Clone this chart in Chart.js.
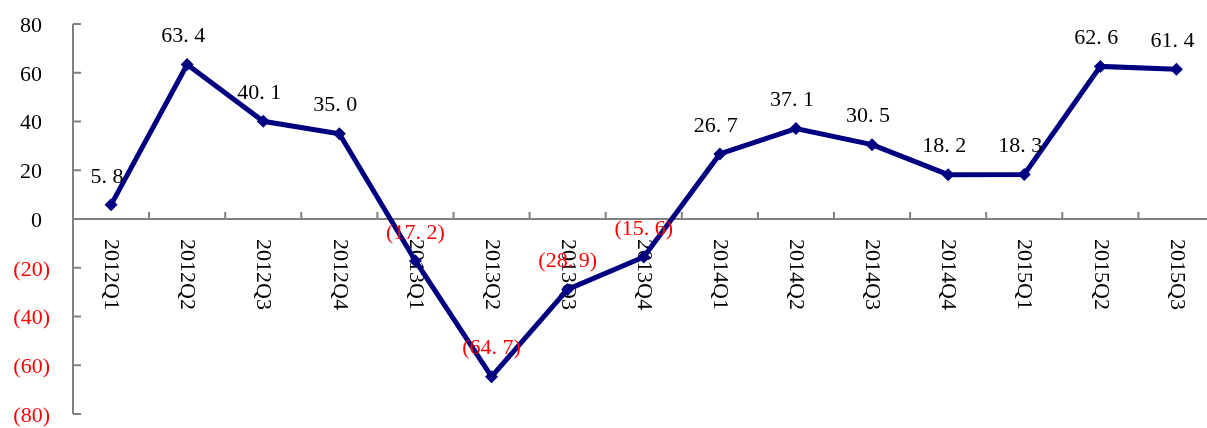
<!DOCTYPE html>
<html>
<head>
<meta charset="utf-8">
<script src="https://cdn.jsdelivr.net/npm/chart.js@4"></script>
<style>
  html, body { margin: 0; padding: 0; background: #fff; overflow: hidden; }
  #wrap { width: 1221px; height: 428px; position: relative; }
</style>
</head>
<body>
<div id="wrap"><canvas id="growthChart"></canvas></div>
<script>
const quarters = ["2012Q1","2012Q2","2012Q3","2012Q4","2013Q1","2013Q2","2013Q3","2013Q4",
                  "2014Q1","2014Q2","2014Q3","2014Q4","2015Q1","2015Q2","2015Q3"];
const growth = [5.8, 63.4, 40.1, 35.0, -17.2, -64.7, -28.9, -15.6, 26.7, 37.1, 30.5, 18.2, 18.3, 62.6, 61.4];
const yTicks = [80, 60, 40, 20, 0, -20, -40, -60, -80];

const FONT = "22px 'Liberation Serif', serif";
const AXIS = "#808080";

// excel style number format: 0.0_);(0.0)
const fmt = (v, digits) => v < 0 ? `(${Math.abs(v).toFixed(digits)})` : v.toFixed(digits);

const axesPlugin = {
  id: "axes",
  beforeDatasetsDraw(chart) {
    const { ctx, scales: { x, y }, chartArea } = chart;
    const y0 = y.getPixelForValue(0);
    ctx.save();
    ctx.strokeStyle = AXIS;
    ctx.lineWidth = 2;

    // y axis line + inward ticks
    ctx.beginPath();
    ctx.moveTo(chartArea.left, y.getPixelForValue(80));
    ctx.lineTo(chartArea.left, y.getPixelForValue(-80));
    yTicks.forEach(t => {
      const py = y.getPixelForValue(t);
      ctx.moveTo(chartArea.left, py);
      ctx.lineTo(chartArea.left + 8, py);
    });
    // x axis at zero, ticks between categories pointing up
    ctx.moveTo(chartArea.left, y0);
    ctx.lineTo(chartArea.right, y0);
    for (let i = 1; i < quarters.length; i++) {
      const px = (x.getPixelForValue(i - 1) + x.getPixelForValue(i)) / 2;
      ctx.moveTo(px, y0);
      ctx.lineTo(px, y0 - 7);
    }
    ctx.stroke();

    // y tick labels
    ctx.font = FONT;
    ctx.textBaseline = "middle";
    ctx.textAlign = "right";
    yTicks.forEach(t => {
      const py = y.getPixelForValue(t) + 2;
      ctx.fillStyle = t < 0 ? "#ff0000" : "#000";
      ctx.fillText(fmt(t, 0), t < 0 ? 50 : 42, py);
    });

    // category labels, rotated clockwise
    ctx.fillStyle = "#000";
    ctx.textAlign = "left";
    quarters.forEach((q, i) => {
      ctx.save();
      ctx.translate(x.getPixelForValue(i), y0 + 20);
      ctx.rotate(Math.PI / 2);
      ctx.fillText(q, 0, 0);
      ctx.restore();
    });
    ctx.restore();
  },
  afterDatasetsDraw(chart) {
    const { ctx } = chart;
    const meta = chart.getDatasetMeta(0);
    ctx.save();
    ctx.font = FONT;
    ctx.textAlign = "center";
    ctx.textBaseline = "middle";
    meta.data.forEach((pt, i) => {
      const v = growth[i];
      ctx.fillStyle = v < 0 ? "#ff0000" : "#000";
      const txt = fmt(v, 1).replace(".", ".\u2005");
      ctx.fillText(txt, pt.x - (v < 0 ? 0 : 4), pt.y - 28);
    });
    ctx.restore();
  }
};

function createGrowthChart() {
  const data = {
    labels: quarters,
    datasets: [
      {
        data: growth,
        fill: false,
        borderColor: "#000080",
        backgroundColor: "#000080",
        borderWidth: 5,
        tension: 0,
        pointStyle: "rectRot",
        pointRadius: 6.5,
        pointBorderWidth: 0,
      },
    ],
  };

  const config = {
    type: "line",
    data: data,
    options: {
      responsive: true,
      maintainAspectRatio: false,
      animation: false,
      layout: { padding: { left: 73, top: 24, bottom: 14, right: 0 } },
      scales: {
        x: { display: false, offset: true },
        y: { display: false, min: -80, max: 80 },
      },
      plugins: {
        legend: false,
        tooltip: { enabled: false },
      },
    },
    plugins: [axesPlugin],
  };

  new Chart(document.getElementById("growthChart"), config);
}

document.addEventListener("DOMContentLoaded", () => {
  createGrowthChart()
});
</script>
</body>
</html>
